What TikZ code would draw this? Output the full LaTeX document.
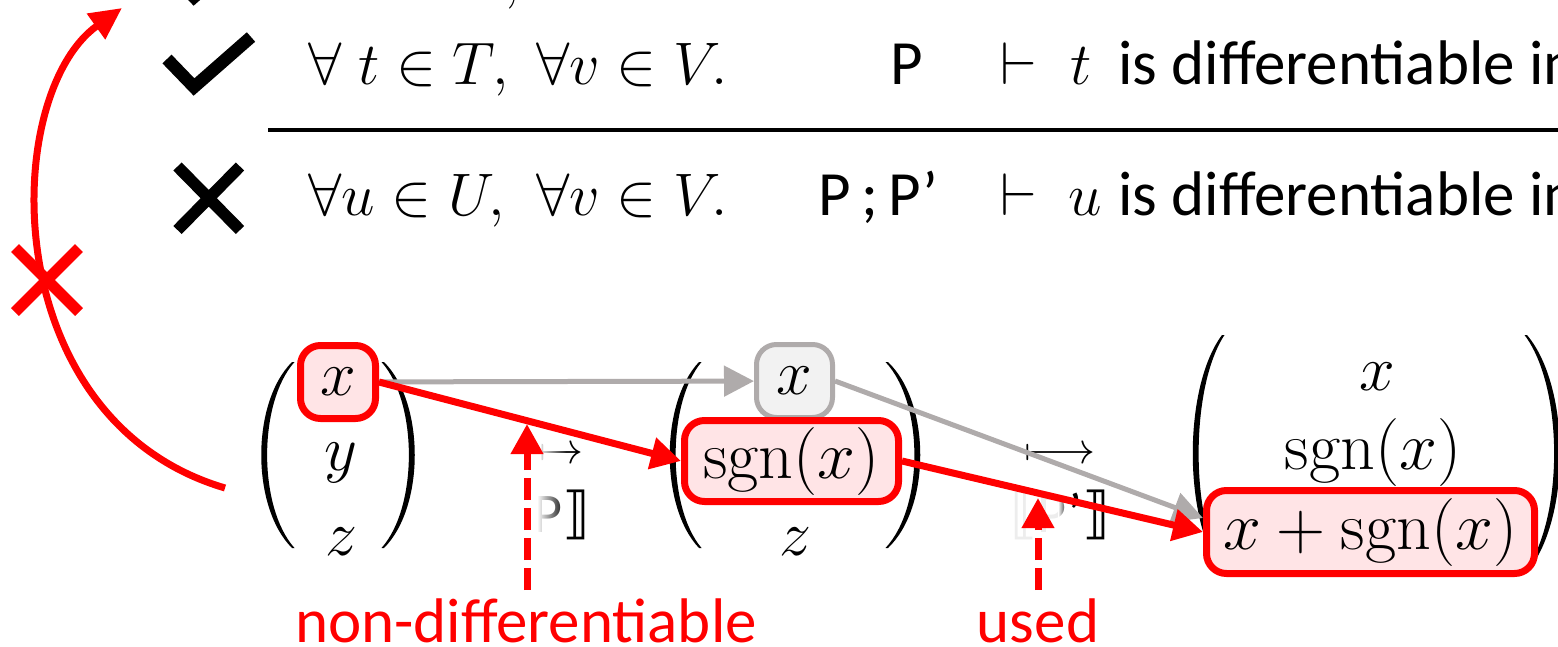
\RequirePackage{fix-cm}
\documentclass[tikz,border=0pt]{standalone}
\usepackage[no-math]{fontspec}
\setmainfont{Carlito}
\newfontfamily\djv{DejaVu Sans}
\usetikzlibrary{arrows.meta,fadings,calc}
\definecolor{myred}{HTML}{FF0000}
\definecolor{pinkfill}{HTML}{FFE4E6}
\definecolor{gline}{HTML}{AFABAB}
\definecolor{gfill}{HTML}{F2F2F2}
\tikzfading[name=fadeR, left color=transparent!0, right color=transparent!100]
% paren: end x, top y, bottom y, outer ctrl offset, inner ctrl offset, end offset
\newcommand{\mypar}[6]{\fill[black] (#1,#2) .. controls ({#1+#4},{#2+0.22*(#3-#2)}) and ({#1+#4},{#2+0.78*(#3-#2)}) .. (#1,#3) -- ({#1+#6},#3) .. controls ({#1+#5},{#2+0.78*(#3-#2)}) and ({#1+#5},{#2+0.22*(#3-#2)}) .. ({#1+#6},#2) -- cycle;}
\begin{document}
\begin{tikzpicture}[x=0.5pt,y=-0.5pt,
 txt/.style={font=\fontsize{31.5}{36}\selectfont, inner sep=0pt, anchor=base west},
 mth/.style={font=\fontsize{30}{36}\selectfont, inner sep=0pt, anchor=base west},
 bm/.style={font=\fontsize{32}{38}\selectfont, inner sep=0pt},
 bmw/.style={font=\fontsize{34}{40}\selectfont, inner sep=0pt},
 redbox/.style={draw=myred, line width=3.5pt, fill=pinkfill, rounded corners=10pt, text=black},
 graybox/.style={draw=gline, line width=2.5pt, fill=gfill, rounded corners=10pt},
 redarr/.style={draw=myred, line width=3.5pt, -{Triangle[length=15pt,width=15.5pt]}},
 grayarr/.style={draw=gline, line width=2.5pt, -{Triangle[length=15pt,width=15pt]}},
 dasharr/.style={redarr, dash pattern=on 11pt off 4pt},
 tickline/.style={line width=6.3pt},
 xline/.style={line width=5.8pt},
 lab/.style={font=\fontsize{28}{30}\selectfont, inner sep=0pt},
 arw/.style={font=\fontsize{22}{22}\selectfont, inner sep=0pt}
]
\useasboundingbox (0,0) rectangle (1558,647);

% row above (cut off)
\draw[tickline] (167,-31) -- (194,-3) -- (251,-53);
\node[mth] (cm0) at (503,-2) {$,$};

% row 1
\draw[tickline] (167,59) -- (194,87) -- (251,37);
\node[mth] (m1a) at (308,85) {$\forall\; t \in T,$};
\node[mth] (m1b) at (536,85) {$\forall v \in V.$};
\node[txt] (p1) at (890,85) {P};
\node[mth] (vd1) at (1000,85) {$\vdash$};
\node[mth] (t1) at (1070,85) {$t$};
\node[txt] (d1t) at (1118,85) {is differentiable in};

% rule
\draw[line width=2pt] (268,130) -- (1570,130);

% row 2
\draw[xline] (177.5,166.5) -- (240,230) (240,166.5) -- (177.5,230);
\node[mth] (m2a) at (308,215) {$\forall u \in U,$};
\node[mth] (m2b) at (536,215) {$\forall v \in V.$};
\node[txt] (p2) at (818,215) {P\,;\,P’};
\node[mth] (vd2) at (1000,215) {$\vdash$};
\node[mth] (u2) at (1068,215) {$u$};
\node[txt] (d2t) at (1118,215) {is differentiable in};

% parentheses
\mypar{292}{362}{548}{-41}{-34}{2.5}
\mypar{384}{362}{548}{41}{34}{-2.5}
\mypar{699}{362}{548}{-39}{-32}{2.5}
\mypar{888}{362}{548}{43}{36}{-2.5}
\mypar{1222}{335}{572}{-39}{-32}{2.5}
\mypar{1527}{335}{572}{44}{37}{-2.5}

% vector entries
\node[bm, redbox, minimum width=37.5pt, minimum height=36.5pt] (x1) at (338,382) {$x$};
\node[bm] (y1) at (341,463) {$y$};
\node[bm] (z1) at (341,542) {$z$};
\node[bm, graybox, minimum width=38pt, minimum height=36.5pt] (x2) at (794.5,381) {$x$};
\node[bmw, redbox, minimum width=107pt, minimum height=40.5pt] (s2) at (791.5,461) {$\mathrm{sgn}(x)$};
\node[bm] (z2) at (795,542) {$z$};
\node[bm] (x3) at (1377,377) {$x$};
\node[bmw] (s3) at (1373,452) {$\mathrm{sgn}(x)$};
\node[bmw, redbox, minimum width=164pt, minimum height=41.5pt] (r3) at (1370.5,532) {$x+\mathrm{sgn}(x)$};

% transition labels
\node[arw] (a1) at (561,455) {$\mapsto$};
\node[lab] (l1) at (548,515) {{\djv ⟦}P{\djv ⟧}};
\node[arw] (a2) at (1060,455) {$\longmapsto$};
\node[lab] (l2) at (1060,515) {{\djv ⟦}P’{\djv ⟧}};

% white fades over labels
\fill[white] (470,430) rectangle (537,552);
\fill[white, path fading=fadeR] (537,430) rectangle (566,552);
\fill[white, opacity=0.93] (1000,485) rectangle (1058,552);
\fill[white, path fading=fadeR] (1058,485) rectangle (1068,552);

% connectors
\draw[grayarr] (x1) -- (x2);
\draw[grayarr] (x2.east) -- ([yshift=7pt]r3.west);
\draw[redarr] (x1.east) -- (s2.west);
\draw[redarr] (s2.east) -- (r3.west);

% red labels and dashed arrows
\node[txt, anchor=base, text=myred] (nd) at (526,642) {non-differentiable};
\node[txt, anchor=base, text=myred] (us) at (1038,642) {used};
\coordinate (d1s) at (527,590);
\coordinate (d1e) at (527,424);
\coordinate (d2s) at (1038,590);
\coordinate (d2e) at (1038,498);
\draw[dasharr] (d1s) -- (d1e);
\draw[dasharr] (d2s) -- (d2e);

% red curved arrow with cross
\coordinate (cs) at (225,488);
\coordinate (ce) at (122,8);
\draw[myred, line width=3.5pt, -{Triangle[length=16pt,width=15pt]}] (cs) .. controls (-5,420) and (0,95) .. (ce);
\draw[myred, line width=5.5pt] (15,248) -- (79,312) (79,248) -- (15,312);
\end{tikzpicture}
\end{document}
